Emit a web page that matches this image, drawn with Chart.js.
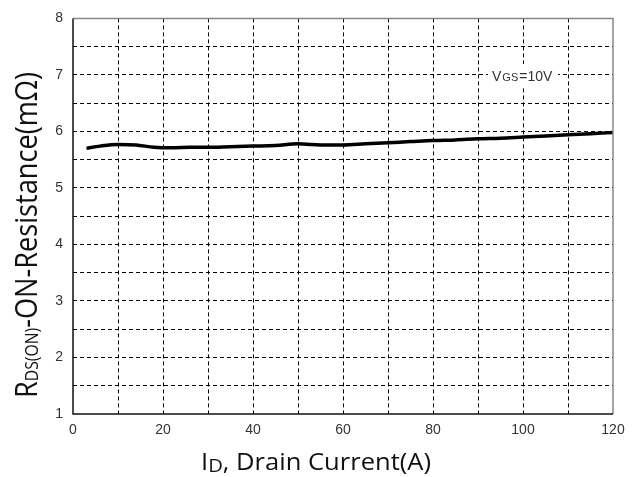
<!DOCTYPE html>
<html>
<head>
<meta charset="utf-8">
<script src="https://cdn.jsdelivr.net/npm/chart.js@4"></script>
<style>
  html, body { margin: 0; padding: 0; background: #fff; }
  #wrap { width: 636px; height: 477px; }
</style>
</head>
<body>
<div id="wrap"><canvas id="rdsChart" width="636" height="477"></canvas></div>
<script>
// Drain current (A) and on-resistance (mOhm)
const drainCurrent = [3, 6, 10, 14, 18, 22, 26, 30, 35, 40, 45, 50, 53, 56, 60, 65, 70, 75, 80, 85, 90, 95, 100, 105, 110, 115, 120];
const rdsOn = [5.70, 5.74, 5.77, 5.76, 5.72, 5.71, 5.72, 5.72, 5.73, 5.74, 5.75, 5.78, 5.77, 5.76, 5.76, 5.78, 5.80, 5.82, 5.84, 5.85, 5.87, 5.88, 5.90, 5.92, 5.94, 5.96, 5.98];

const xLabels = ['0', '20', '40', '60', '80', '100', '120'];
const yLabels = ['1', '2', '3', '4', '5', '6', '7', '8'];

const titleFont = '"Open Sans", "Noto Sans", sans-serif';
const tickFont = '"Liberation Sans", Arial, sans-serif';

// draws a run of [text, size, dy] parts, squeezed to a target length
function drawParts(ctx, parts, targetLen) {
    let total = 0;
    parts.forEach(p => {
        ctx.font = p.size + 'px ' + titleFont;
        p.w = ctx.measureText(p.text).width;
        total += p.w;
    });
    const k = targetLen / total;
    ctx.scale(k, 1);
    let x = -total / 2;
    parts.forEach(p => {
        ctx.font = p.size + 'px ' + titleFont;
        ctx.fillText(p.text, x, p.dy);
        x += p.w;
    });
}

const decorPlugin = {
    id: 'decor',
    afterDraw(chart) {
        const ctx = chart.ctx;
        const a = chart.chartArea;

        // frame
        ctx.save();
        ctx.lineWidth = 1.5;
        ctx.strokeStyle = '#888';
        ctx.beginPath();
        ctx.moveTo(a.left, a.top);
        ctx.lineTo(a.right, a.top);
        ctx.lineTo(a.right, a.bottom);
        ctx.stroke();
        ctx.strokeStyle = '#111';
        ctx.beginPath();
        ctx.moveTo(a.left, a.top);
        ctx.lineTo(a.left, a.bottom);
        ctx.lineTo(a.right, a.bottom);
        ctx.stroke();
        ctx.restore();

        // x title
        ctx.save();
        ctx.fillStyle = '#111';
        ctx.textBaseline = 'alphabetic';
        ctx.translate(316, 470);
        drawParts(ctx, [
            { text: 'I', size: 24, dy: 0 },
            { text: 'D', size: 19, dy: 2 },
            { text: ', Drain Current(A)', size: 24, dy: 0 }
        ], 230);
        ctx.restore();

        // y title
        ctx.save();
        ctx.fillStyle = '#111';
        ctx.textBaseline = 'alphabetic';
        ctx.translate(37, 235);
        ctx.rotate(-Math.PI / 2);
        drawParts(ctx, [
            { text: 'R', size: 31, dy: 0 },
            { text: 'DS(ON)', size: 18, dy: 1 },
            { text: '-ON-Resistance(mΩ)', size: 31, dy: 0 }
        ], 326);
        ctx.restore();

        // VGS note, on a white patch that cuts the grid
        ctx.save();
        ctx.fillStyle = '#fff';
        ctx.fillRect(488, 64, 70, 22);
        ctx.fillStyle = '#333';
        ctx.textBaseline = 'alphabetic';
        let x = 492;
        const y = 81;
        ctx.font = '14px ' + tickFont;
        ctx.fillText('V', x, y);
        x += ctx.measureText('V').width + 1;
        ctx.font = '11px ' + tickFont;
        ctx.fillText('GS', x, y);
        x += ctx.measureText('GS').width + 1;
        ctx.font = '14px ' + tickFont;
        ctx.fillText('=10V', x, y);
        ctx.restore();
    }
};

const edgeColor = (min, max) => (c) => {
    const v = c.tick ? c.tick.value : null;
    return (v === min || v === max) ? 'rgba(0,0,0,0)' : '#000';
};

const ctx = document.getElementById('rdsChart').getContext('2d');
const chart = new Chart(ctx, {
    type: 'line',
    data: {
        datasets: [{
            data: drainCurrent.map((x, i) => ({ x: x, y: rdsOn[i] })),
            borderColor: '#000',
            borderWidth: 3.5,
            pointRadius: 0,
            fill: false,
            cubicInterpolationMode: 'monotone'
        }]
    },
    options: {
        responsive: false,
        animation: false,
        layout: { padding: { left: 0, top: 18, right: 23, bottom: 0 } },
        plugins: {
            legend: { display: false },
            tooltip: { enabled: false }
        },
        scales: {
            x: {
                type: 'linear',
                min: 0,
                max: 120,
                afterFit: scale => { scale.height = 63; },
                grid: { color: edgeColor(0, 120), lineWidth: 1, drawTicks: false },
                border: { display: false, dash: [4, 3] },
                ticks: {
                    stepSize: 10,
                    padding: 8,
                    maxRotation: 0,
                    autoSkip: false,
                    color: '#333',
                    font: { family: tickFont, size: 14 },
                    callback: v => (v % 20 === 0 ? xLabels[v / 20] : '')
                }
            },
            y: {
                type: 'linear',
                min: 1,
                max: 8,
                afterFit: scale => { scale.width = 73; },
                grid: { color: edgeColor(1, 8), lineWidth: 1, drawTicks: false },
                border: { display: false, dash: [4, 3] },
                ticks: {
                    stepSize: 0.5,
                    padding: 10,
                    autoSkip: false,
                    color: '#333',
                    font: { family: tickFont, size: 14 },
                    callback: v => (Number.isInteger(v) ? yLabels[v - 1] : '')
                }
            }
        }
    },
    plugins: [decorPlugin]
});
</script>
</body>
</html>
